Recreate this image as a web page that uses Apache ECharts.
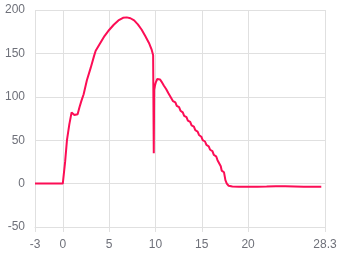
<!DOCTYPE html>
<html>
<head>
<meta charset="utf-8">
<script src="https://cdn.jsdelivr.net/npm/echarts@6/dist/echarts.min.js"></script>
<style>html,body{margin:0;padding:0;background:#fff}#c{width:340px;height:255px}</style>
</head>
<body>
<div id="c"></div>
<script>
var xTicks = [-3, 0, 5, 10, 15, 20, 28.3];
var xs = [-3, -2, -1, 0, 0.05, 0.25, 0.45, 0.7, 0.95, 1.1, 1.25, 1.45, 1.6, 1.8, 2.0, 2.25, 2.6, 3.0, 3.4, 3.55, 4.0, 4.5, 5.0, 5.5, 6.0, 6.5, 6.9, 7.3, 7.7, 8.1, 8.5, 8.9, 9.3, 9.6, 9.75, 9.8, 9.82, 9.86, 9.95, 10.05, 10.2, 10.34,
  10.5, 10.65, 10.75, 10.9, 11.0, 11.15, 11.25, 11.4, 11.5, 11.65, 11.75, 11.9, 12.15, 12.3, 12.55, 12.7, 12.95, 13.1, 13.35, 13.5, 13.75, 13.9, 14.15, 14.3, 14.55, 14.7, 14.95, 15.1, 15.35, 15.5, 15.75, 15.9, 16.15, 16.3, 16.55, 16.7, 16.9, 17.05, 17.15, 17.4, 17.55, 17.7, 17.9, 18.3, 19, 20, 21, 22, 23, 24, 25, 26, 27, 27.9];
var ys = [0, 0, 0, 0, 0, 25, 50, 68, 82, 84, 79, 77.5, 80, 88, 95, 103, 119, 133, 148, 153, 161, 170, 177, 183, 188, 191, 191.5, 190.5, 188, 183.5, 177.5, 170, 162, 154, 148, 146, 35, 108, 113, 117, 120.5, 121.5,
  120, 117.5, 116.5, 113, 112.5, 109, 108, 104, 103.5, 99.5, 99, 95, 93.5, 89.5, 88, 84, 82, 78, 76.5, 72.5, 71, 67, 65.5, 61.5, 60, 56, 54, 50, 48.5, 44.5, 43, 39, 37.5, 33, 31.5, 27, 25, 20, 15, 13, 4, 0, -2.5, -3.4, -3.6, -3.6, -3.6, -3.4, -3.1, -3.0, -3.2, -3.5, -3.6, -3.6];
var yMin = -50, yMax = 200, yStep = 50;

var data = xs.map(function (x, i) { return [x, ys[i]]; });
var gridColor = '#e0e0e0';
var chart = echarts.init(document.getElementById('c'), null, {renderer: 'canvas'});
chart.setOption({
  animation: false,
  grid: {left: 35, right: 15, top: 10, bottom: 28, containLabel: false},
  xAxis: {
    type: 'value', min: -3, max: 28.3,
    axisLine: {onZero: false, show: true, lineStyle: {color: gridColor}},
    axisTick: {show: true, length: 5, customValues: xTicks, lineStyle: {color: gridColor}},
    axisLabel: {customValues: xTicks, color: '#6e7079', fontSize: 12, margin: 12},
    splitLine: {show: true, lineStyle: {color: gridColor}}
  },
  yAxis: {
    type: 'value', min: yMin, max: yMax, interval: yStep,
    axisLine: {show: false},
    axisTick: {show: false},
    axisLabel: {color: '#6e7079', fontSize: 12, margin: 10},
    splitLine: {show: true, lineStyle: {color: gridColor}}
  },
  series: [{
    type: 'line', data: data, showSymbol: false, symbol: 'none',
    lineStyle: {color: '#fc0d55', width: 2},
    itemStyle: {color: '#fc0d55'}
  }]
});
</script>
</body>
</html>
